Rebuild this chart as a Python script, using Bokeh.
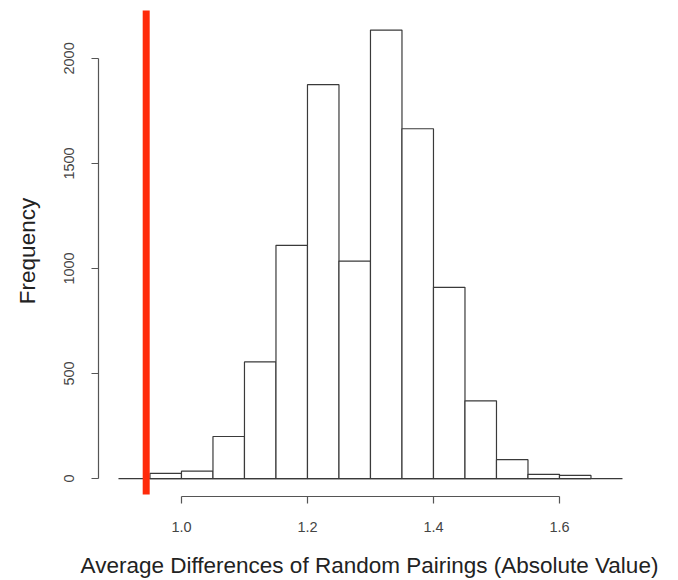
from bokeh.plotting import figure
from bokeh.models import Range1d, FixedTicker, ColumnDataSource
from bokeh.embed import file_html
from bokeh.resources import INLINE

# Histogram bins (left/right edges) and counts
bin_left = [0.95, 1.00, 1.05, 1.10, 1.15, 1.20, 1.25, 1.30, 1.35, 1.40, 1.45, 1.50, 1.55, 1.60]
bin_right = [1.00, 1.05, 1.10, 1.15, 1.20, 1.25, 1.30, 1.35, 1.40, 1.45, 1.50, 1.55, 1.60, 1.65]
counts = [25, 35, 200, 555, 1110, 1875, 1035, 2135, 1665, 910, 370, 90, 20, 15]

x_ticks = [1.0, 1.2, 1.4, 1.6]
y_ticks = [0, 500, 1000, 1500, 2000]

observed_value = 0.944
baseline_x = [0.9, 1.7]

FONT = "Liberation Sans"

p = figure(width=678, height=580, output_backend="svg", toolbar_location=None,
           x_range=Range1d(0.8683, 1.7286), y_range=Range1d(-85.5, 2251.8),
           min_border_left=98, min_border_right=38, min_border_top=5, min_border_bottom=83)
p.outline_line_color = None
p.grid.visible = False
p.background_fill_color = "white"
p.border_fill_color = "white"

src = ColumnDataSource(dict(left=bin_left, right=bin_right, top=counts, bottom=[0] * len(counts)))
p.quad(left="left", right="right", top="top", bottom="bottom", source=src,
       fill_color="white", line_color="#3a3a3a", line_width=1.2)

# baseline
p.line(x=baseline_x, y=[0, 0], line_color="#3a3a3a", line_width=1.2)

# observed value line
p.segment(x0=[observed_value], x1=[observed_value], y0=[-76], y1=[2228],
          line_color="#ff2a0a", line_width=7)

for ax in (p.xaxis[0], p.yaxis[0]):
    ax.axis_line_color = "#555555"
    ax.major_tick_line_color = "#555555"
    ax.axis_line_width = 1.2
    ax.major_tick_line_width = 1.2
    ax.major_tick_out = 7
    ax.major_tick_in = 0
    ax.minor_tick_line_color = None
    ax.major_label_text_font = FONT
    ax.major_label_text_font_size = "14.5px"
    ax.major_label_text_color = "#444444"
    ax.axis_label_text_font = FONT
    ax.axis_label_text_font_size = "22.5px"
    ax.axis_label_text_font_style = "normal"
    ax.axis_label_text_color = "#222222"

p.xaxis.ticker = FixedTicker(ticks=x_ticks)
p.xaxis.bounds = (1.0, 1.6)
p.xaxis.major_label_overrides = {1.0: "1.0", 1.2: "1.2", 1.4: "1.4", 1.6: "1.6"}
p.xaxis.axis_label = "Average Differences of Random Pairings (Absolute Value)"
p.xaxis.major_label_standoff = 18
p.xaxis.axis_label_standoff = 18

p.yaxis.ticker = FixedTicker(ticks=y_ticks)
p.yaxis.bounds = (0, 2000)
p.yaxis.major_label_orientation = "vertical"
p.yaxis.axis_label = "Frequency"
p.yaxis.major_label_standoff = 17
p.yaxis.axis_label_standoff = 22

open("out.html", "w").write(file_html(p, INLINE))
